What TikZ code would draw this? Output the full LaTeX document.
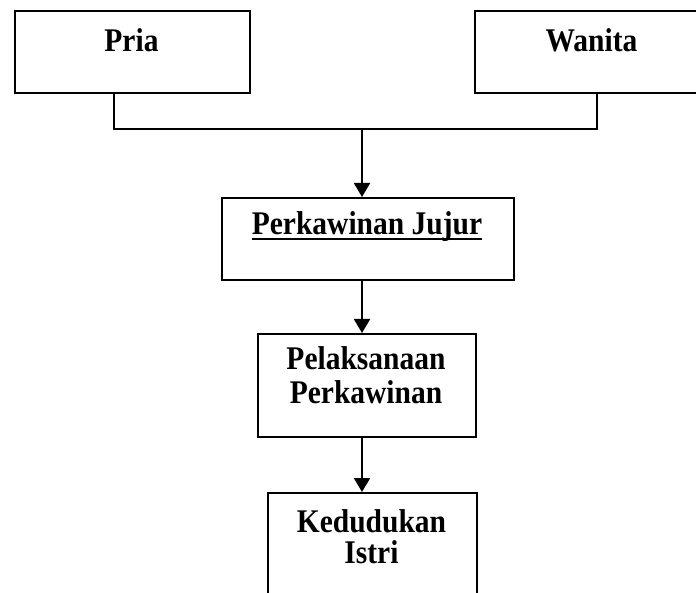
\documentclass[tikz,border=0pt]{standalone}
\usepackage{fontspec}
\setmainfont{Liberation Serif}
\usetikzlibrary{arrows.meta}
\newcommand{\lbltext}[1]{\scalebox{1}[1.12]{\bfseries #1}}
\tikzset{
  box/.style={draw, line width=2.2pt, rectangle, inner sep=0pt, anchor=north west},
  lbl/.style={inner sep=0pt, anchor=base, font=\fontsize{29.5}{33}\selectfont},
  conn/.style={line width=2pt},
  arr/.style={line width=2pt, -{Triangle[width=16pt,length=14pt]}}
}
\begin{document}
\begin{tikzpicture}[x=1pt,y=-1pt]
\useasboundingbox (0,0) rectangle (696,593);
\clip (0,0) rectangle (696,593);
% boxes
\node[box, minimum width=235pt, minimum height=82pt] (pria) at (14,10) {};
\node[box, minimum width=235pt, minimum height=82pt] (wanita) at (474,10) {};
\node[box, minimum width=292pt, minimum height=82pt] (pj) at (221,197) {};
\node[box, minimum width=218pt, minimum height=103pt] (pel) at (257,333) {};
\node[box, minimum width=209pt, minimum height=140pt] (ked) at (267,492) {};
% labels
\node[lbl] (tpria) at (131.5,52) {\lbltext{Pria}};
\node[lbl] (twanita) at (591.5,52) {\lbltext{Wanita}};
\node[lbl] (tpj) at (367,235) {\lbltext{Perkawinan Jujur}};
\draw[line width=2pt] ([yshift=-4.5pt]tpj.base west) -- ([yshift=-4.5pt]tpj.base east);
\node[lbl] (tpel1) at (366,370) {\lbltext{Pelaksanaan}};
\node[lbl] (tpel2) at (366,403) {\lbltext{Perkawinan}};
\node[lbl] (tked1) at (371.5,532) {\lbltext{Kedudukan}};
\node[lbl] (tked2) at (371.5,563) {\lbltext{Istri}};
% connectors
\coordinate (jl) at (114,129);
\coordinate (jr) at (597,129);
\coordinate (jm) at (362,129);
\draw[conn] (pria.south -| jl) -- (jl) -- (jr) -- (wanita.south -| jr);
\draw[arr] (jm) -- (pj.north -| jm);
\draw[arr] (pj.south -| jm) -- (pel.north -| jm);
\draw[arr] (pel.south -| jm) -- (ked.north -| jm);
\end{tikzpicture}
\end{document}
